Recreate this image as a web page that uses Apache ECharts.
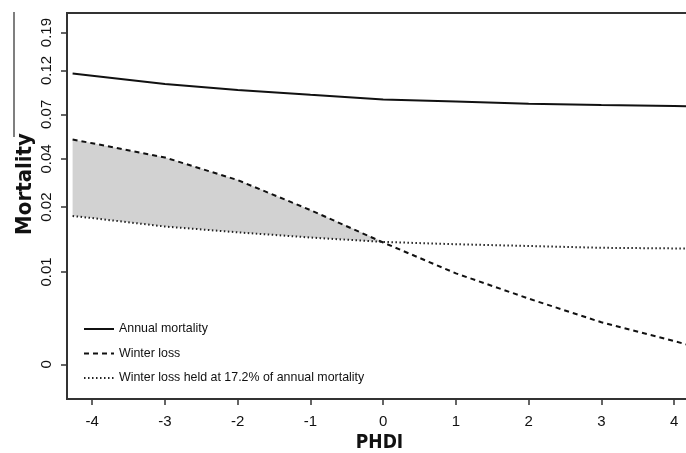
<!DOCTYPE html>
<html>
<head>
<meta charset="utf-8">
<script src="https://cdn.jsdelivr.net/npm/echarts@6/dist/echarts.min.js"></script>
<style>html,body{margin:0;background:#fff}#chart{width:686px;height:453px}</style>
</head>
<body>
<div id="chart"></div>
<script>
// values (mortality on a log scale)
var phdi = [-4.27, -4, -3, -2, -1, 0, 1, 2, 3, 4, 4.2];
var annual = [0.1145, 0.1115, 0.1007, 0.0934, 0.0880, 0.0832, 0.0810, 0.0789, 0.0776, 0.0767, 0.0765];
var winter = [0.0507, 0.0484, 0.0406, 0.0307, 0.0212, 0.0142, 0.0097, 0.0071, 0.0053, 0.0042, 0.0040];
var held = [0.0197, 0.0192, 0.0173, 0.0161, 0.0151, 0.0143, 0.0139, 0.0136, 0.0133, 0.0132, 0.0132];

var xTicks = [-4, -3, -2, -1, 0, 1, 2, 3, 4];
var yTickValues = [0.00315, 0.00987, 0.0220, 0.0399, 0.0692, 0.119, 0.19];
var yTickLabels = ['0', '0.01', '0.02', '0.04', '0.07', '0.12', '0.19'];

var legendNames = ['Annual mortality', 'Winter loss', 'Winter loss held at 17.2% of annual mortality'];

var yTickPos = yTickValues.map(Math.log);

function toPairs(vals) {
    return phdi.map(function (x, i) { return [x, Math.log(vals[i])]; });
}

// shaded gap between winter loss and the held line, left of zero
var bandIdx = [];
phdi.forEach(function (x, i) { if (x <= 0) bandIdx.push(i); });

var labelFont = '"Liberation Sans", Arial, sans-serif';
var titleFont = '"DejaVu Sans Condensed", "DejaVu Sans", sans-serif';

var myChart = echarts.init(document.getElementById('chart'));

var option = {
    animation: false,
    grid: {
        left: 67, top: 13, right: -6, bottom: 54,
        outerBoundsMode: 'none',
        containLabel: false,
        show: true, borderColor: '#333', borderWidth: 2
    },
    xAxis: {
        type: 'value',
        min: -4.347,
        max: 4.246,
        name: 'PHDI',
        nameLocation: 'middle',
        nameGap: 35,
        nameTextStyle: {
            fontFamily: titleFont, fontWeight: 'bold', fontSize: 19, color: '#111'
        },
        axisLine: { show: false, onZero: false },
        splitLine: { show: false },
        axisTick: { customValues: xTicks, length: 6, lineStyle: { color: '#333', width: 1.5 } },
        axisLabel: { customValues: xTicks, margin: 15, fontFamily: labelFont, fontSize: 15, color: '#111' }
    },
    yAxis: {
        type: 'value',
        min: -6.188,
        max: -1.419,
        axisLine: { show: false, onZero: false },
        splitLine: { show: false },
        axisTick: { customValues: yTickPos, length: 6, lineStyle: { color: '#333', width: 1.5 } },
        axisLabel: {
            customValues: yTickPos,
            rotate: 90,
            margin: 13,
            fontFamily: labelFont,
            fontSize: 15,
            color: '#111',
            formatter: function (v) {
                var best = 0;
                yTickPos.forEach(function (p, i) {
                    if (Math.abs(p - v) < Math.abs(yTickPos[best] - v)) best = i;
                });
                return yTickLabels[best];
            }
        }
    },
    legend: {
        data: legendNames,
        orient: 'vertical',
        left: 83,
        top: 322,
        padding: 0,
        itemWidth: 30,
        itemHeight: 14,
        itemGap: 10.5,
        selectedMode: false,
        itemStyle: { opacity: 0 },
        textStyle: { fontFamily: labelFont, fontSize: 12.4, color: '#111', lineHeight: 14 }
    },
    graphic: [
        {
            type: 'text',
            x: 25, y: 184,
            rotation: Math.PI / 2,
            style: {
                text: 'Mortality',
                font: 'bold 22px ' + titleFont,
                fill: '#111',
                textAlign: 'center',
                textVerticalAlign: 'middle'
            }
        },
        {
            type: 'line',
            shape: { x1: 14, y1: 12, x2: 14, y2: 137 },
            style: { stroke: '#555', lineWidth: 1.5 }
        }
    ],
    series: [
        {
            name: 'band',
            type: 'custom',
            silent: true,
            data: [[phdi[0], Math.log(held[0])]],
            renderItem: function (params, api) {
                var pts = [];
                bandIdx.forEach(function (i) {
                    pts.push(api.coord([phdi[i], Math.log(Math.max(winter[i], held[i]))]));
                });
                bandIdx.slice().reverse().forEach(function (i) {
                    pts.push(api.coord([phdi[i], Math.log(held[i])]));
                });
                return { type: 'polygon', shape: { points: pts }, style: { fill: '#d2d2d2' } };
            }
        },
        {
            name: legendNames[0],
            type: 'line',
            data: toPairs(annual),
            symbol: 'none',
            itemStyle: { color: '#111' },
            lineStyle: { color: '#111', width: 2 }
        },
        {
            name: legendNames[1],
            type: 'line',
            data: toPairs(winter),
            symbol: 'none',
            itemStyle: { color: '#111' },
            lineStyle: { color: '#111', width: 2, type: [5, 4] }
        },
        {
            name: legendNames[2],
            type: 'line',
            data: toPairs(held),
            symbol: 'none',
            itemStyle: { color: '#111' },
            lineStyle: { color: '#222', width: 2, type: [1.5, 2.5] }
        }
    ]
};

myChart.setOption(option);
</script>
</body>
</html>
